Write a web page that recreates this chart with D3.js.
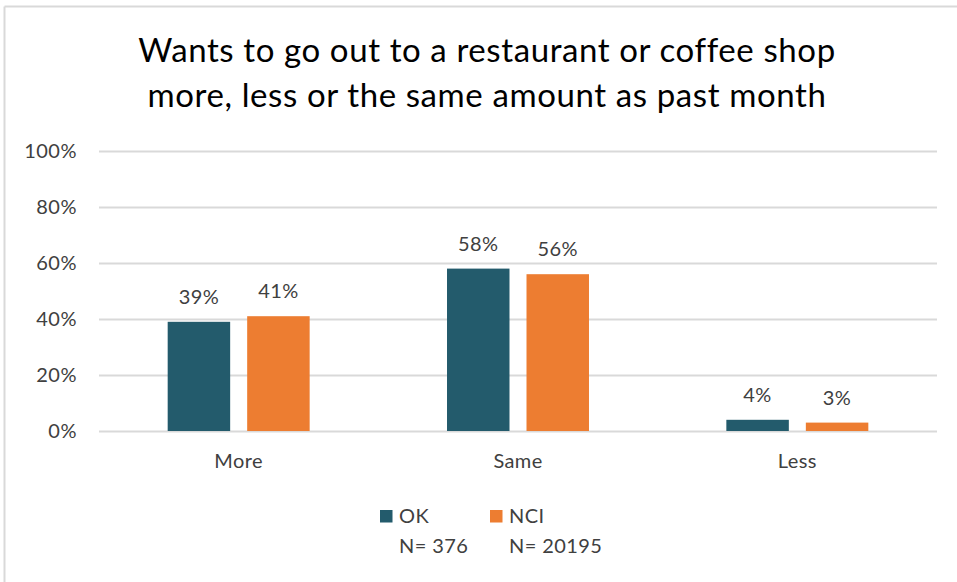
<!DOCTYPE html>
<html><head><meta charset="utf-8">
<script src="https://cdn.jsdelivr.net/npm/d3@7"></script>
<style>
html,body{margin:0;padding:0;background:#fff;}
svg{display:block;font-family:Lato,"Open Sans",sans-serif;}
</style></head>
<body>
<svg id="c" width="957" height="582"></svg>
<script>
const titleLines = ["Wants to go out to a restaurant or coffee shop", "more, less or the same amount as past month"];
const categories = ["More", "Same", "Less"];
const seriesNames = ["OK", "NCI"];
const seriesN = ["N= 376", "N= 20195"];
const okValues = [39, 58, 4];
const nciValues = [41, 56, 3];
const yTicks = [0, 20, 40, 60, 80, 100];
const colors = ["#235B6C", "#ED7D31"];

(function(){
const svg = d3.select("#c");
// outer frame (only top and left edges visible in the crop)
svg.append("line").attr("x1", 4.5).attr("x2", 957).attr("y1", 6.5).attr("y2", 6.5)
  .attr("stroke", "#d9d9d9").attr("stroke-width", 2);
svg.append("line").attr("x1", 4.5).attr("x2", 4.5).attr("y1", 6.5).attr("y2", 582)
  .attr("stroke", "#d9d9d9").attr("stroke-width", 2);

const pL = 99, pR = 937, pT = 151, pB = 431;
const x = d3.scaleBand().domain(categories).range([pL, pR]).paddingInner(0).paddingOuter(0);
const y = d3.scaleLinear().domain([0, 100]).range([pB, pT]);

const title = svg.append("text").attr("text-anchor", "middle").attr("fill", "#000")
  .attr("font-size", 33).attr("letter-spacing", 0.6);
titleLines.forEach((t, i) => {
  title.append("tspan").attr("x", 487).attr("y", 62 + i * 45).text(t);
});

const yAxis = d3.axisLeft(y).tickValues(yTicks).tickFormat(d => d + "%").tickSize(-(pR - pL)).tickPadding(22);
const g = svg.append("g").attr("transform", `translate(${pL},0)`).call(yAxis);
g.select(".domain").remove();
g.selectAll(".tick line").attr("stroke", "#d9d9d9").attr("stroke-width", 2);
g.selectAll(".tick text").attr("fill", "#404040").attr("font-size", 20).attr("letter-spacing", 0.5)
  .attr("font-family", "Lato, sans-serif");

const x1 = d3.scaleBand().domain(seriesNames).range([0, x.bandwidth()]).paddingInner(0.214).paddingOuter(0.864);
const data = categories.map((c, i) => ({c, vals: [okValues[i], nciValues[i]]}));
const grp = svg.append("g").selectAll("g").data(data).join("g")
  .attr("transform", d => `translate(${x(d.c)},0)`);
grp.selectAll("rect").data(d => d.vals.map((v, j) => ({v, s: seriesNames[j], j}))).join("rect")
  .attr("x", d => x1(d.s)).attr("width", x1.bandwidth())
  .attr("y", d => y(d.v)).attr("height", d => y(0) - y(d.v))
  .attr("fill", d => colors[d.j]);
grp.selectAll("text.lbl").data(d => d.vals.map((v, j) => ({v, s: seriesNames[j], j}))).join("text")
  .attr("class", "lbl")
  .attr("x", d => x1(d.s) + x1.bandwidth() / 2).attr("y", d => y(d.v) - 18)
  .attr("text-anchor", "middle").attr("fill", "#404040").attr("font-size", 20).attr("letter-spacing", 0.4)
  .text(d => d.v + "%");

const xAxis = d3.axisBottom(x).tickSize(0).tickPadding(23);
const gx = svg.append("g").attr("transform", `translate(0,${pB})`).call(xAxis);
gx.select(".domain").remove();
gx.selectAll(".tick text").attr("fill", "#404040").attr("font-size", 20).attr("letter-spacing", 0.4)
  .attr("font-family", "Lato, sans-serif");

const legX = [380, 490];
seriesNames.forEach((s, i) => {
  const lg = svg.append("g").attr("transform", `translate(${legX[i]},0)`);
  lg.append("rect").attr("x", 0).attr("y", 510).attr("width", 12.5).attr("height", 12.5).attr("fill", colors[i]);
  lg.append("text").attr("x", 19).attr("y", 523).attr("fill", "#404040").attr("font-size", 20).attr("letter-spacing", 0.4).text(s);
  lg.append("text").attr("x", 19).attr("y", 553).attr("fill", "#404040").attr("font-size", 20).attr("letter-spacing", 0.4).text(seriesN[i]);
});
})();
</script>
</body></html>
